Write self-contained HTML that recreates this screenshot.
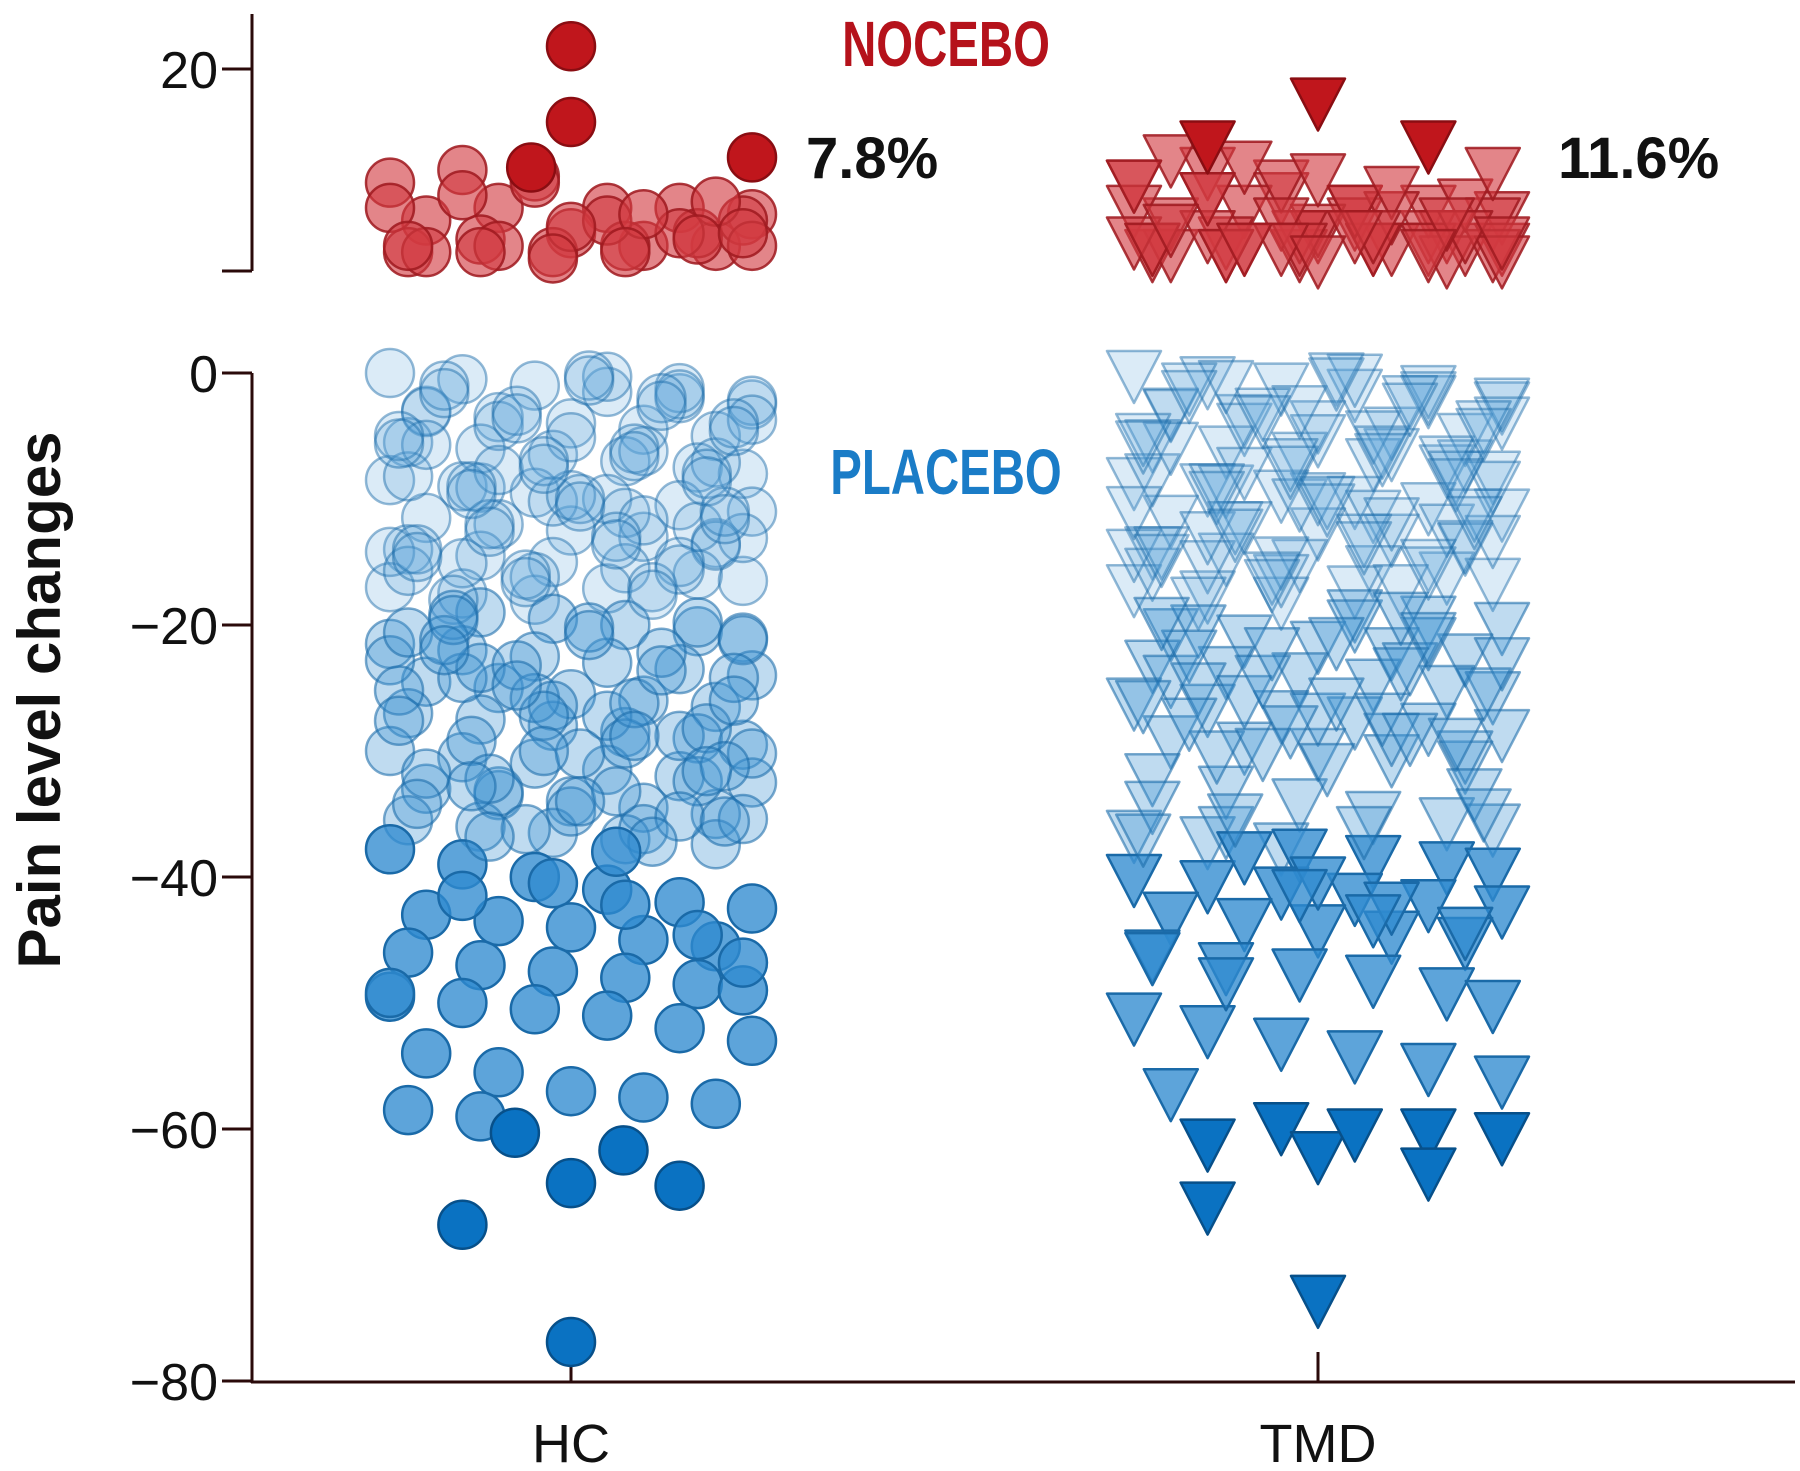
<!DOCTYPE html>
<html><head><meta charset="utf-8"><style>
html,body{margin:0;padding:0;background:#fff;}
svg{display:block;}
text{font-family:"Liberation Sans",sans-serif;}
</style></head><body>
<svg id="chart" width="1800" height="1471" viewBox="0 0 1800 1471">
<g id="axes"></g>
<g id="marks"></g>
<text x="946" y="66" text-anchor="middle" font-size="64" font-weight="bold" fill="#b5121b" transform="translate(946 0) scale(0.74 1) translate(-946 0)">NOCEBO</text>
<text x="946" y="494" text-anchor="middle" font-size="64" font-weight="bold" fill="#1a7cc7" transform="translate(946 0) scale(0.74 1) translate(-946 0)">PLACEBO</text>
<text x="806" y="178" font-size="58" font-weight="bold" fill="#111">7.8%</text>
<text x="1558" y="178" font-size="58" font-weight="bold" fill="#111">11.6%</text>
<text x="0" y="0" font-size="60" font-weight="bold" fill="#111" text-anchor="middle" transform="translate(60 700) rotate(-90)">Pain level changes</text>
</svg>
<script>
// ---- data ----
const groups = ['HC','TMD'];
const yTicks = [20,0,-20,-40,-60,-80];
const jitter = [-1,-0.6,-0.2,0.2,0.6,1,-0.8,-0.4,0,0.4,0.8,-0.9,-0.5,-0.1,0.3,0.7,0.95];
const jitter2 = [0.1,-0.7,0.5,-0.3,0.9,-0.95,0.35,-0.15,0.75,-0.55,0.05,0.85,-0.45,0.25,-0.85,0.6,-0.25,0.45,-0.65];
const hcNoceboSemi = [11,12,11.5,9,9,8.5,8,9,7,6,6,5.5,6.5,5.5,6,7,8,9,10,11,8,7,6,5.5,6,7.5,8.5,9.5,6,5.5,5,5.5,6.5,7];
const hcNoceboSolid = [21.8,15.8,12.2,13];
const hcNoceboSolidJ = [0,0,-0.22,1];
const tmdNoceboSemi = [11,12,10,9,9,8.5,8,9,7,6,6,5.5,6.5,5.5,6,7,8,9,10,11,8,7,6,5.5,6,7.5,8.5,9.5,6,5.5,7,6,5,5.5,6.5,7,8,9,6,5,13,12.5,11.5,10.5,7,6,5.5,6,7,8,12,11,10,6,7,5.5,6.5,7.5,6,5];
const tmdNoceboSolid = [14.1,17.5,14.1];
const tmdNoceboSolidJ = [-0.6,0,0.6];
const hcPlacebo = [0,-0.5,-1,-1.5,-2,-2.5,-3,-3.5,-4,-4.5,-5,-5.5,-6,-6.5,-7,-7.5,-8,-8.5,-9,-9.5,-10,-10.5,-11,-11.5,-12,-12.5,-13,-13.5,-14,-14.5,-15,-15.5,-16,-16.5,-17,-17.5,-18,
 -0.3,-1.2,-2.2,-3.1,-4.2,-5.1,-6.2,-7.1,-8.2,-9.1,-10.2,-11.1,-12.2,-13.1,-14.2,-15.1,-16.2,-17.1,-1.7,-3.7,-5.7,-7.7,-9.7,-11.7,-13.7,-15.7,
 -19,-19.5,-20,-20.5,-21,-21.5,-22,-22.5,-23,-23.5,-24,-24.5,-25,-25.5,-26,-26.5,-27,-27.5,-28,-28.5,-29,-29.5,-30,-30.5,-31,-31.5,-32,-32.5,-33,-33.5,-34,-34.5,-35,-35.5,-36,-36.5,-37,
 -19.8,-21.2,-22.8,-24.2,-25.8,-27.2,-28.8,-30.2,-31.8,-33.2,-34.8,-36.2,-37.4,-20.6,-23.4,-26.4,-29.4,-32.4,-35.4,-37.8,
 -39,-40,-41,-42,-42.5,-43,-43.5,-44,-45,-45.5,-46,-47,-47.5,-48,-48.5,-49,-49.5,-50,-50.5,-51,-52,-53,-54,-55.5,-57,-57.5,-58,-58.5,-59,-40.5,-42.2,-44.6,-46.8,-49.2,-41.5];
const hcPlaceboExtra = [-0.2,-1,-2,-3,-4,-5,-6,-7,-8,-9,-10,-11,-12,-13,-14,-15,-16,-17,-18,-0.6,-1.6,-2.6,-3.6,-4.6,-5.6,-6.6,-7.6,-8.6,-9.6,-10.6,-11.6,-12.6,-13.6,-14.6,-15.6,-16.6,-17.6,
 -19.2,-20.2,-21.2,-22.2,-23.2,-24.2,-25.2,-26.2,-27.2,-28.2,-29.2,-30.2,-31.2,-32.2,-33.2,-34.2,-35.2,-36.2,-37.2,-19.6,-20.8,-22,-23.6,-24.8,-26,-27.6,-28.8,-30,-31.6,-32.8,-34,-35.6,-36.8,-38];
const hcPlaceboSolid = [-60.3,-67.6,-64.3,-61.7,-64.5,-76.9];
const hcPlaceboSolidJ = [-0.31,-0.6,0,0.29,0.6,0];
const tmdPlacebo = [0,-0.5,-1,-1.5,-2,-2.5,-3,-3.5,-4,-4.5,-5,-5.5,-6,-6.5,-7,-7.5,-8,-8.5,-9,-9.5,-10,-10.5,-11,-11.5,-12,-12.5,-13,-13.5,-14,-14.5,-15,-15.5,-16,-16.5,-17,-17.5,-18,
 -0.3,-1.2,-2.2,-3.1,-4.2,-5.1,-6.2,-7.1,-8.2,-9.1,-10.2,-11.1,-12.2,-13.1,-14.2,-15.1,-16.2,-17.1,-1.7,-3.7,-5.7,-7.7,-9.7,-11.7,-13.7,-15.7,-0.8,-2.8,-4.8,-6.8,-8.8,-10.8,-12.8,-14.8,
 -19,-19.5,-20,-20.5,-21,-21.5,-22,-22.5,-23,-23.5,-24,-24.5,-25,-25.5,-26,-26.5,-27,-27.5,-28,-28.5,-29,-29.5,-30,-30.5,-31,-32,-33,-34,-35,-35.5,-36,-36.5,-37,-37.5,-19.8,-21.2,-22.8,-24.2,-25.8,-27.2,-28.8,-30.2,-34.2,-36.2,
 -38,-38.5,-39,-39.5,-40,-40.5,-41,-41.5,-42,-42.5,-43,-43.5,-44,-44.5,-45,-46,-47,-47.5,-48,-49,-50,-51,-52,-53,-54,-55,-56,-57,-38.2,-40.2,-42.2,-44.2,-46.2,-48.2,-41.2,-43.2];
const tmdPlaceboExtra = [-0.2,-1,-2,-3,-4,-5,-6,-7,-8,-9,-10,-11,-12,-13,-14,-15,-16,-17,-18,-0.6,-1.6,-2.6,-3.6,-4.6,-5.6,-6.6,-7.6,-8.6,-9.6,-10.6,-11.6,-12.6,-13.6,-14.6,-15.6,-16.6,
 -19.2,-20.2,-21.2,-22.2,-23.2,-24.2,-25.2,-26.2,-27.2,-28.2,-29.2,-30.2,-31.2,-33.2,-35.2,-36.2,-19.6,-20.8,-22,-23.6,-24.8,-26,-27.6,-28.8,-30,-34.8,-36.8];
const tmdPlaceboSolid = [-61,-66,-59.7,-62,-60.2,-60.2,-63.3,-60.5,-73.4];
const tmdPlaceboSolidJ = [-0.6,-0.6,-0.2,0,0.2,0.6,0.6,1,0];

// ---- scales ----
const xCenter = {HC:571, TMD:1318};
const xSpread = {HC:181, TMD:184};
function yLow(v){ return 373 - v*12.6; }
function yHigh(v){ return 69 + (20-v)*12.63; }

const NS='http://www.w3.org/2000/svg';
function mk(tag, attrs, parent){
  const e=document.createElementNS(NS,tag);
  for(const k in attrs) e.setAttribute(k,attrs[k]);
  parent.appendChild(e); return e;
}
const axes=document.getElementById('axes');
const marks=document.getElementById('marks');

let l=mk('line',{x1:252,y1:14,x2:252,y2:271,stroke:'#2a0a0a','stroke-width':3},axes);


l=mk('line',{x1:252,y1:373,x2:252,y2:1383,stroke:'#2a0a0a','stroke-width':3},axes);


l=mk('line',{x1:251,y1:1382,x2:1795,y2:1382,stroke:'#2a0a0a','stroke-width':3},axes);


l=mk('line',{x1:222,y1:271,x2:252,y2:271,stroke:'#2a0a0a','stroke-width':3},axes);


yTicks.forEach(t=>{
  const y = t>0 ? yHigh(t) : yLow(t);
  const tk=mk('line',{x1:222,y1:y,x2:252,y2:y,stroke:'#2a0a0a','stroke-width':3},axes);
  
  
  const tx=mk('text',{x:218,y:y+19,'text-anchor':'end','font-size':52,fill:'#111'},axes);
  tx.textContent = t<0 ? '\u2212'+Math.abs(t) : String(t);
  
  
});
groups.forEach(g=>{
  const tk=mk('line',{x1:xCenter[g],y1:1352,x2:xCenter[g],y2:1382,stroke:'#2a0a0a','stroke-width':3},axes);
  
  
  const tx=mk('text',{x:xCenter[g],y:1462,'text-anchor':'middle','font-size':54,fill:'#111'},axes);
  tx.textContent=g;
  
  
});

function shape(g, cx, cy, fill, stroke, op, name){
  let e;
  if(g==='HC'){
    e=mk('circle',{cx:cx,cy:cy,r:24,fill:fill,'fill-opacity':op,stroke:stroke,'stroke-opacity':Math.min(1,op+0.25),'stroke-width':2.5},marks);
  } else {
    const s=27;
    e=mk('polygon',{points:`${cx-s},${cy-22} ${cx+s},${cy-22} ${cx},${cy+30}`,fill:fill,'fill-opacity':op,stroke:stroke,'stroke-opacity':Math.min(1,op+0.25),'stroke-width':2.5,'stroke-linejoin':'round'},marks);
  }
  
  
}
function placeboStyle(v){
  if(v>-18.5) return ['#5aa6dc',0.22];
  if(v>-37.8) return ['#3d93d2',0.33];
  return ['#2f8ad0',0.78];
}
function drawSeries(g, vals, js, kind, solid, pat){
  const p = pat || jitter;
  vals.forEach((v,i)=>{
    const j = js ? js[i] : p[i%p.length];
    const cx = xCenter[g] + j*xSpread[g];
    if(kind==='nocebo'){
      const cy=yHigh(v);
      if(solid) shape(g,cx,cy,'#c0161c','#8a0d12',1,'nocebo-point');
      else shape(g,cx,cy,'#d23a40','#a01a20',0.62,'nocebo-point');
    } else {
      const cy=yLow(v);
      if(solid) shape(g,cx,cy,'#0a72c2','#07508a',1,'placebo-point');
      else { const st=placeboStyle(v); shape(g,cx,cy,st[0],'#1a6aa8',st[1],'placebo-point'); }
    }
  });
}
drawSeries('HC',hcPlacebo,null,'placebo',false);
drawSeries('HC',hcPlaceboExtra,null,'placebo',false,jitter2);
drawSeries('HC',hcPlaceboSolid,hcPlaceboSolidJ,'placebo',true);
drawSeries('HC',hcNoceboSemi,null,'nocebo',false);
drawSeries('HC',hcNoceboSolid,hcNoceboSolidJ,'nocebo',true);
drawSeries('TMD',tmdPlacebo,null,'placebo',false);
drawSeries('TMD',tmdPlaceboExtra,null,'placebo',false,jitter2);
drawSeries('TMD',tmdPlaceboSolid,tmdPlaceboSolidJ,'placebo',true);
drawSeries('TMD',tmdNoceboSemi,null,'nocebo',false);
drawSeries('TMD',tmdNoceboSolid,tmdNoceboSolidJ,'nocebo',true);
</script>
</body></html>
